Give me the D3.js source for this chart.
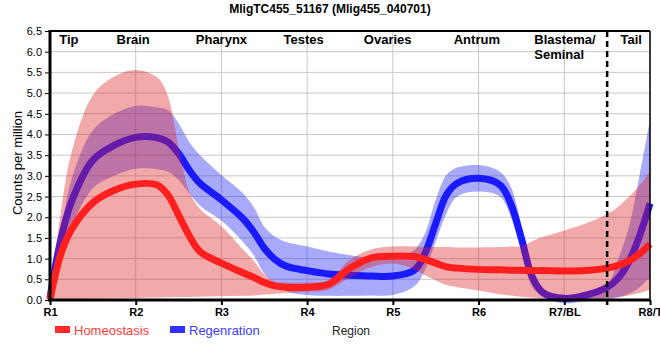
<!DOCTYPE html>
<html><head><meta charset="utf-8">
<script src="https://cdn.jsdelivr.net/npm/d3@7"></script>
<style>body{margin:0;background:#fff} svg{display:block;font-family:"Liberation Sans",Arial,sans-serif}</style>
</head><body><svg id="c" width="660" height="360"></svg>
<script>
// ---- data ----
const regionLabels = ["R1","R2","R3","R4","R5","R6","R7/BL","R8/T"];
const regionNames = ["Tip","Brain","Pharynx","Testes","Ovaries","Antrum","Blastema/|Seminal","Tail"];
const yTicks = [0,0.5,1,1.5,2,2.5,3,3.5,4,4.5,5,5.5,6,6.5];
const seriesNames = ["Homeostasis","Regenration"];
// sample positions along the region axis (0 = R1 ... 7 = R8/T)
const pos = [0,0.125,0.25,0.5,0.75,1.0,1.25,1.375,1.5,1.625,1.75,2.0,2.25,2.375,2.5,2.625,2.75,3.0,3.25,3.5,3.75,4.0,4.25,4.375,4.5,4.625,4.75,5.0,5.25,5.375,5.5,5.625,5.75,6.0,6.25,6.5,6.625,6.75,6.875,7.0];
const homeo     = [0,1.1,1.7,2.35,2.65,2.8,2.78,2.54,2.05,1.55,1.17,0.89,0.66,0.55,0.42,0.34,0.31,0.31,0.38,0.77,1.02,1.06,1.05,0.98,0.89,0.8,0.77,0.74,0.73,0.72,0.72,0.71,0.71,0.70,0.71,0.77,0.83,0.94,1.11,1.35];
const homeoHigh = [0,2.1,3.55,4.95,5.4,5.56,5.38,4.93,3.7,2.62,2.2,1.78,1.22,0.95,0.62,0.44,0.42,0.42,0.48,0.97,1.22,1.29,1.29,1.28,1.28,1.28,1.27,1.27,1.28,1.29,1.3,1.42,1.52,1.68,1.85,2.08,2.25,2.48,2.76,3.12];
const homeoLow  = [0,0.01,0.02,0.03,0.04,0.05,0.06,0.065,0.07,0.075,0.08,0.09,0.1,0.11,0.13,0.15,0.17,0.2,0.25,0.55,0.8,0.88,0.74,0.6,0.48,0.36,0.31,0.23,0.14,0.11,0.08,0.06,0.04,0.02,0.02,0.04,0.07,0.11,0.17,0.25];
const regen     = [0.05,1.45,2.37,3.38,3.74,3.93,3.92,3.82,3.54,3.14,2.82,2.42,1.97,1.65,1.25,0.98,0.82,0.71,0.63,0.6,0.58,0.58,0.72,1.13,1.85,2.54,2.82,2.94,2.78,2.33,1.49,0.56,0.18,0.04,0.12,0.31,0.52,0.91,1.53,2.33];
const regenHigh = [0.3,1.6,2.9,4.1,4.5,4.69,4.65,4.59,4.27,3.82,3.5,3.02,2.58,2.25,1.77,1.53,1.41,1.29,1.17,1.08,1.02,1.0,1.21,1.61,2.42,3.02,3.2,3.26,3.1,2.74,1.81,0.8,0.28,0.1,0.16,0.36,0.97,1.73,2.98,4.35];
const regenLow  = [-0.05,0.97,1.77,2.7,3.0,3.17,3.16,3.1,2.9,2.58,2.28,1.92,1.41,1.09,0.64,0.4,0.22,0.12,0.1,0.1,0.11,0.12,0.33,0.72,1.41,2.09,2.5,2.62,2.5,2.01,1.17,0.32,0.08,-0.08,-0.03,0.02,0.06,0.15,0.3,0.55];
const dividerAt = 6.5;

// ---- layout ----
const L = {left:50, right:650, top:31, bottom:300};
const namePlace = [{x:0.22,a:"middle"},{x:0.97,a:"middle"},{x:2.0,a:"middle"},{x:2.96,a:"middle"},{x:3.94,a:"middle"},{x:4.98,a:"middle"},{x:5.65,a:"start"},{x:6.78,a:"middle"}];

const svg = d3.select("#c");
const x = d3.scaleLinear().domain([0,7]).range([L.left,L.right]);
const y = d3.scaleLinear().domain([0,6.5]).range([L.bottom,L.top]);

// grid
svg.append("g").selectAll("line").data(yTicks).join("line")
  .attr("x1",L.left).attr("x2",L.right).attr("y1",d=>y(d)).attr("y2",d=>y(d))
  .attr("stroke","#c8c8c8").attr("stroke-width",1);
svg.append("g").selectAll("line").data(d3.range(regionLabels.length)).join("line")
  .attr("x1",d=>x(d)).attr("x2",d=>x(d)).attr("y1",L.top).attr("y2",L.bottom)
  .attr("stroke","#c8c8c8").attr("stroke-width",1);

const curve = d3.curveCatmullRom.alpha(0.5);
function rows(mid, lo, hi){ return pos.map((p,i)=>({p, m:mid[i], lo:lo[i], hi:hi[i]})); }
const H = rows(homeo, homeoLow, homeoHigh);
const R = rows(regen, regenLow, regenHigh);
const area = d3.area().x(d=>x(d.p)).y0(d=>y(d.lo)).y1(d=>y(d.hi)).curve(curve);
const line = d3.line().x(d=>x(d.p)).y(d=>y(d.m)).curve(curve);

svg.append("path").attr("d",area(R)).attr("fill","rgb(30,30,240)").attr("fill-opacity",0.38);
svg.append("path").attr("d",line(R)).attr("fill","none").attr("stroke","#1a1aff").attr("stroke-width",7);
svg.append("path").attr("d",area(H)).attr("fill","rgb(220,30,30)").attr("fill-opacity",0.38);
svg.append("path").attr("d",line(H)).attr("fill","none").attr("stroke","#ff1f1f").attr("stroke-width",7);

// frame
svg.append("line").attr("x1",L.left).attr("x2",L.right).attr("y1",L.top).attr("y2",L.top).attr("stroke","#000").attr("stroke-width",2);
svg.append("line").attr("x1",L.right).attr("x2",L.right).attr("y1",L.top).attr("y2",L.bottom).attr("stroke","#000").attr("stroke-width",1.5);

// divider
svg.append("line").attr("x1",x(dividerAt)).attr("x2",x(dividerAt)).attr("y1",L.top).attr("y2",L.bottom+5)
  .attr("stroke","#000").attr("stroke-width",2.5).attr("stroke-dasharray","6,4");

// axes
const ya = svg.append("g").attr("transform",`translate(${L.left},0)`)
  .call(d3.axisLeft(y).tickValues(yTicks).tickFormat(d3.format(".1f")).tickSize(5).tickPadding(3));
ya.select(".domain").remove();
ya.selectAll("text").attr("font-size",11).attr("fill","#000").attr("font-family","Liberation Sans, Arial");
ya.selectAll("line").attr("stroke","#000");
const xa = svg.append("g").attr("transform",`translate(0,${L.bottom})`)
  .call(d3.axisBottom(x).tickValues(d3.range(regionLabels.length)).tickFormat(i=>regionLabels[i]).tickSize(5).tickPadding(3));
xa.select(".domain").remove();
xa.selectAll("text").attr("font-size",11).attr("font-weight","bold").attr("fill","#000").attr("font-family","Liberation Sans, Arial");
xa.selectAll("line").attr("stroke","#000").attr("stroke-width",2);
svg.append("line").attr("x1",L.left).attr("x2",L.left).attr("y1",L.top-1).attr("y2",L.bottom+1.5).attr("stroke","#000").attr("stroke-width",3);
svg.append("line").attr("x1",L.left-1.5).attr("x2",L.right).attr("y1",L.bottom).attr("y2",L.bottom).attr("stroke","#000").attr("stroke-width",3);

// region names
regionNames.forEach((n,i)=>{
  const t = svg.append("text").attr("x",x(namePlace[i].x)).attr("y",44).attr("text-anchor",namePlace[i].a)
    .attr("font-size",13).attr("font-weight","bold").attr("fill","#000");
  n.split("|").forEach((s,j)=>t.append("tspan").attr("x",x(namePlace[i].x)).attr("dy",j?15:0).text(s));
});

// titles
svg.append("text").attr("x",330).attr("y",13).attr("text-anchor","middle").attr("font-size",12).attr("font-weight","bold")
  .text("MligTC455_51167 (Mlig455_040701)");
svg.append("text").attr("transform","translate(22,163) rotate(-90)").attr("text-anchor","middle").attr("font-size",13).text("Counts per million");
svg.append("text").attr("x",332).attr("y",335).attr("font-size",12).attr("fill","#222").text("Region");

// legend
const legCol = [{r:"#ff2a2a",t:"#ff3c3c",x:55},{r:"#3030ff",t:"#3c3cff",x:170}];
seriesNames.forEach((s,i)=>{
  svg.append("rect").attr("x",legCol[i].x).attr("y",326).attr("width",15).attr("height",7).attr("fill",legCol[i].r);
  svg.append("text").attr("x",legCol[i].x+19).attr("y",334.5).attr("font-size",13).attr("fill",legCol[i].t).text(s);
});
</script></body></html>
